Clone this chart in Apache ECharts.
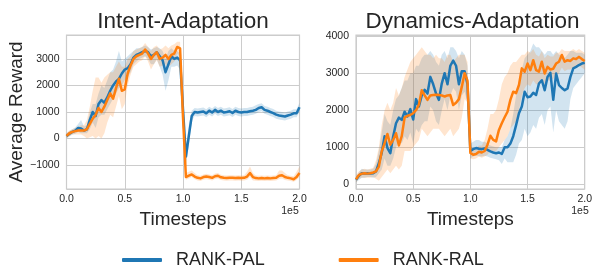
<!DOCTYPE html>
<html><head><meta charset="utf-8">
<script src="https://cdn.jsdelivr.net/npm/echarts@6/dist/echarts.min.js"></script>
<style>html,body{margin:0;padding:0;background:#fff}#c{width:595px;height:270px}</style>
</head><body><div id="c"></div>
<script>
// Timesteps (units of 1e5)
const timesteps = [0,0.025,0.05,0.075,0.1,0.125,0.15,0.175,0.2,0.225,
 0.25,0.275,0.3,0.325,0.35,0.375,0.4,0.425,0.45,0.475,
 0.5,0.525,0.55,0.575,0.6,0.625,0.65,0.675,0.7,0.725,
 0.75,0.775,0.8,0.825,0.85,0.875,0.9,0.925,0.95,0.975,
 1.0,1.025,1.05,1.075,1.1,1.125,1.15,1.175,1.2,1.225,
 1.25,1.275,1.3,1.325,1.35,1.375,1.4,1.425,1.45,1.475,
 1.5,1.525,1.55,1.575,1.6,1.625,1.65,1.675,1.7,1.725,
 1.75,1.775,1.8,1.825,1.85,1.875,1.9,1.925,1.95,1.975,
 2.0];
const xTicks = [0, 0.5, 1.0, 1.5, 2.0];
const seriesNames = ['RANK-PAL', 'RANK-RAL'];
const panelTitles = ['Intent-Adaptation', 'Dynamics-Adaptation'];

// Intent-Adaptation, RANK-PAL
const intentPalMean = [100,180,250,300,400,380,300,350,700,1000,
 850,1300,1450,1350,1550,1800,2000,2150,2250,2450,
 2600,2650,2800,3050,3150,3200,3250,3300,3250,3100,
 3150,3250,3100,2950,2500,2800,3100,3000,3050,2950,
 1100,-680,100,850,1000,980,1000,1020,950,1050,
 980,1080,1000,1050,980,1000,1030,960,1050,1000,
 980,1000,1000,1030,1050,1080,1150,1180,1080,1050,
 1000,960,900,870,850,830,870,900,950,950,
 1180];
const intentPalLo = [0,80,150,180,250,200,200,200,350,600,
 400,800,900,900,1100,1300,1500,1700,1900,2000,
 2200,2300,2500,2800,2900,3000,3050,3100,3000,2800,
 2800,3000,2700,2400,1800,2200,2700,2700,2750,2600,
 700,-1000,-300,650,850,830,850,870,800,900,
 830,930,850,900,830,850,880,810,900,850,
 830,850,850,880,900,930,1000,1030,930,900,
 850,810,750,720,700,680,720,750,800,800,
 1000];
const intentPalHi = [200,280,350,420,550,700,450,500,1000,1300,
 1300,1700,2000,1900,2200,2500,2600,2900,3300,2900,
 3000,3100,3200,3300,3400,3400,3450,3500,3450,3350,
 3400,3450,3400,3300,3000,3300,3400,3300,3300,3200,
 1500,-350,500,1050,1150,1130,1150,1170,1100,1200,
 1130,1230,1150,1200,1130,1150,1180,1110,1200,1150,
 1130,1150,1150,1180,1200,1250,1300,1330,1230,1200,
 1150,1110,1050,1020,1000,980,1020,1050,1100,1100,
 1350];

// Intent-Adaptation, RANK-RAL
const intentRalMean = [100,200,250,280,300,300,300,350,550,750,
 900,1150,1000,1200,1450,1700,1500,1900,2250,1800,
 1850,2450,2750,3000,3100,3150,3200,3350,3200,3000,
 3150,3250,3000,3050,3150,3000,3150,3200,3450,3400,
 800,-1450,-1400,-1350,-1430,-1480,-1500,-1450,-1430,-1450,
 -1480,-1420,-1400,-1460,-1480,-1490,-1480,-1480,-1490,-1480,
 -1490,-1480,-1430,-1300,-1450,-1490,-1500,-1490,-1500,-1490,
 -1500,-1490,-1480,-1400,-1380,-1450,-1480,-1500,-1530,-1450,
 -1300];
const intentRalLo = [0,100,150,150,150,150,100,0,50,100,
 0,100,0,200,600,900,800,1200,1600,1100,
 1300,2000,2400,2700,2800,2900,2950,3100,2900,2600,
 2800,2950,2700,2750,2800,2700,2800,2900,3200,3100,
 500,-1550,-1500,-1450,-1530,-1580,-1600,-1550,-1530,-1550,
 -1580,-1520,-1500,-1560,-1580,-1590,-1580,-1580,-1590,-1580,
 -1590,-1580,-1550,-1450,-1580,-1590,-1600,-1590,-1600,-1590,
 -1600,-1590,-1580,-1520,-1500,-1560,-1580,-1600,-1630,-1560,
 -1450];
const intentRalHi = [200,300,350,400,450,500,500,700,1200,1800,
 2300,2300,2100,2300,2400,2500,2500,2700,2900,2700,
 2700,3000,3100,3300,3350,3400,3450,3600,3450,3300,
 3450,3500,3350,3400,3500,3400,3500,3550,3650,3650,
 1100,-1300,-1250,-1200,-1300,-1380,-1400,-1350,-1330,-1350,
 -1380,-1320,-1300,-1360,-1380,-1390,-1380,-1380,-1390,-1380,
 -1390,-1380,-1250,-1050,-1300,-1390,-1400,-1390,-1400,-1390,
 -1400,-1390,-1380,-1200,-1200,-1300,-1380,-1400,-1420,-1250,
 -1050];

// Dynamics-Adaptation, RANK-PAL
const dynPalMean = [125,230,300,290,300,290,300,350,570,850,
 1300,980,840,1290,1650,1800,1740,1960,1830,2030,
 1750,2300,2100,2400,2550,2450,2900,2700,2450,2280,
 2720,3000,2700,3200,3340,3200,2700,3050,3050,2700,
 900,950,980,960,950,970,930,890,860,840,
 860,820,1000,1000,1100,1300,1600,1920,2100,2500,
 2350,2370,2470,2410,2720,2810,2540,2900,3010,2280,
 2990,2680,2600,2540,2590,2900,3130,3170,3220,3260,
 3280];
const dynPalLo = [50,120,180,180,200,200,180,200,300,400,
 700,500,500,700,1000,1200,1100,1300,1200,1400,
 1100,1500,1400,1600,1700,1700,2100,2000,1700,1600,
 2000,2300,2000,2400,2600,2500,2000,2400,2500,2200,
 700,750,780,760,750,770,750,720,700,680,
 650,550,700,600,600,600,800,1100,1200,1500,
 1300,1400,1600,1500,1800,1900,1600,2000,2100,1400,
 2000,1700,1600,1500,1700,2300,2600,2700,2800,2900,
 3000];
const dynPalHi = [200,330,420,400,400,400,420,550,900,1400,
 1900,1700,1600,2000,2300,2400,2600,2800,2800,3000,
 3000,3200,3200,3400,3500,3500,3600,3500,3300,3200,
 3500,3600,3400,3700,3700,3600,3400,3600,3500,3200,
 1100,1150,1200,1200,1150,1150,1100,1050,1020,1000,
 1000,1000,1200,1300,1500,1900,2400,2800,3100,3400,
 3500,3600,3800,3700,3700,3600,3500,3600,3600,3500,
 3600,3500,3500,3400,3500,3600,3600,3550,3550,3550,
 3500];

// Dynamics-Adaptation, RANK-RAL
const dynRalMean = [140,250,290,300,290,300,320,350,480,890,
 1110,1360,1070,1200,1380,1050,1300,1800,1850,1870,
 1920,2000,2150,2540,2400,2280,2400,2410,2420,2410,
 2400,2370,2400,2410,2140,2200,2300,2630,3000,2800,
 850,800,820,880,860,900,1070,1310,1200,1160,
 1470,1650,1810,1960,2280,2500,2460,2680,3130,3040,
 3260,3080,3350,3080,3040,3310,2990,3170,3100,3120,
 3260,3310,3490,3310,3350,3330,3400,3380,3440,3380,
 3330];
const dynRalLo = [50,150,180,180,180,180,200,150,100,200,
 300,400,300,400,500,400,500,900,900,900,
 1000,1100,1200,1500,1400,1300,1400,1500,1500,1500,
 1400,1300,1400,1500,1300,1400,1500,1800,2300,2200,
 700,680,700,750,720,750,800,900,900,900,
 1000,1100,1200,1300,1500,1600,1700,2000,2400,2600,
 2700,2650,2800,2700,2700,2850,2700,2800,2800,2850,
 2950,3000,3150,3050,3100,3100,3150,3150,3200,3150,
 3100];
const dynRalHi = [250,350,400,420,400,420,450,650,1000,1600,
 2000,2200,2000,2200,2600,2400,2600,2900,3100,3300,
 3400,3500,3600,3700,3600,3500,3500,3400,3500,3400,
 3400,3300,3500,3500,3300,3400,3500,3500,3500,3300,
 1000,950,980,1050,1050,1200,1500,1900,1900,2000,
 2300,2700,2900,3000,3200,3300,3300,3400,3500,3500,
 3600,3550,3650,3500,3450,3600,3400,3500,3450,3450,
 3550,3550,3650,3600,3600,3600,3650,3600,3650,3600,
 3550];

const FONT = "'Liberation Sans', Arial, Helvetica, sans-serif";
const INK = '#262626';
const GRIDC = '#cccccc';
const COLORS = ['#1f77b4', '#ff7f0e'];

function band(x, lo, hi, color, gi) {
  return {
    type: 'custom', xAxisIndex: gi, yAxisIndex: gi, silent: true,
    data: x.map((t, i) => [t, lo[i], hi[i]]),
    encode: { x: 0, y: [1, 2] },
    renderItem: function (params, api) {
      if (params.dataIndex !== 0) return null;
      const pts = [];
      for (let i = 0; i < x.length; i++) pts.push(api.coord([x[i], hi[i]]));
      for (let i = x.length - 1; i >= 0; i--) pts.push(api.coord([x[i], lo[i]]));
      return { type: 'polygon', shape: { points: pts }, style: { fill: color, opacity: 0.2 } };
    }
  };
}
function line(name, x, y, color, gi) {
  return {
    type: 'line', name: name, xAxisIndex: gi, yAxisIndex: gi, silent: true,
    data: x.map((t, i) => [t, y[i]]),
    showSymbol: false, symbol: 'none', animation: false,
    lineStyle: { width: 2.5, color: color, join: 'round' },
    itemStyle: { color: color }
  };
}
function fmtY(v) {
  if (Math.abs(v % 1000) > 1e-6) return '';
  return v < 0 ? '\u2212' + Math.abs(v) : String(v);
}
function xAxis(gi) {
  return {
    gridIndex: gi, type: 'value', min: xTicks[0], max: xTicks[xTicks.length - 1], interval: 0.5,
    axisLine: { show: false }, axisTick: { show: false },
    splitLine: { show: true, lineStyle: { color: GRIDC, width: 1 } },
    axisLabel: { formatter: v => v.toFixed(1), color: INK, fontSize: 10.5, fontFamily: FONT, margin: 5 },
    name: 'Timesteps', nameLocation: 'middle', nameGap: 10,
    nameTextStyle: { fontSize: 19, color: INK, fontFamily: FONT }
  };
}
function yAxis(gi, min, max, name) {
  return {
    gridIndex: gi, type: 'value', min: min, max: max,
    axisLine: { show: false }, axisTick: { show: false },
    splitLine: { show: true, lineStyle: { color: GRIDC, width: 1 } },
    axisLabel: { formatter: fmtY, color: INK, fontSize: 10.5, fontFamily: FONT, margin: 7 },
    name: name, nameLocation: 'middle', nameGap: 34,
    nameTextStyle: { fontSize: 19, color: INK, fontFamily: FONT }
  };
}
function label(text, x, y, size) {
  return { type: 'text', x: x, y: y, silent: true,
    style: { text: text, fill: INK, font: size + 'px ' + FONT, align: 'center', verticalAlign: 'middle', textAlign: 'center', textVerticalAlign: 'middle' } };
}

const chart = echarts.init(document.getElementById('c'), null, { renderer: 'canvas' });
chart.setOption({
  animation: false,
  backgroundColor: '#ffffff',
  grid: [
    { left: 66.5, top: 35, width: 233, height: 154, show: true, borderColor: GRIDC, borderWidth: 1.2, backgroundColor: 'transparent' },
    { left: 356, top: 35, width: 233.3, height: 154, show: true, borderColor: GRIDC, borderWidth: 1.2, backgroundColor: 'transparent' }
  ],
  xAxis: [xAxis(0), xAxis(1)],
  yAxis: [yAxis(0, -1900, 3900, 'Average Reward'), yAxis(1, -125, 4030, '')],
  legend: {
    left: 122, top: 251, padding: 0, itemWidth: 40, itemHeight: 4, itemGap: 74, icon: 'roundRect',
    selectedMode: false,
    textStyle: { fontSize: 18, color: INK, fontFamily: FONT, padding: [0, 0, 0, 9] },
    data: seriesNames
  },
  graphic: [
    label(panelTitles[0], 183, 22, 22.5),
    label(panelTitles[1], 472.5, 22, 22.5),
    label('1e5', 290, 211, 10.5),
    label('1e5', 580, 211, 10.5)
  ],
  series: [
    band(timesteps, intentPalLo, intentPalHi, COLORS[0], 0),
    line(seriesNames[0], timesteps, intentPalMean, COLORS[0], 0),
    band(timesteps, intentRalLo, intentRalHi, COLORS[1], 0),
    line(seriesNames[1], timesteps, intentRalMean, COLORS[1], 0),
    band(timesteps, dynPalLo, dynPalHi, COLORS[0], 1),
    line(seriesNames[0], timesteps, dynPalMean, COLORS[0], 1),
    band(timesteps, dynRalLo, dynRalHi, COLORS[1], 1),
    line(seriesNames[1], timesteps, dynRalMean, COLORS[1], 1)
  ]
});
</script>
</body></html>
